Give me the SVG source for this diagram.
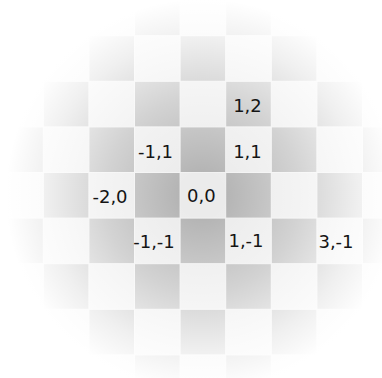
<svg xmlns="http://www.w3.org/2000/svg" width="382" height="378" viewBox="0 0 382 378">
  <style>
    .lbl { font-family: "DejaVu Sans", "Liberation Sans", sans-serif; font-size: 18px; fill: #141414; text-anchor: middle; }
    .grid { stroke: #f2f2f2; stroke-width: 1; fill: none; }
  </style>
  <defs>
    <pattern id="checker" patternUnits="userSpaceOnUse" x="180.1" y="172.5" width="91.2" height="91.2">
      <rect x="0" y="0" width="91.2" height="91.2" fill="#ebebeb"/>
      <rect x="45.6" y="0" width="45.6" height="45.6" fill="#b3b3b3"/>
      <rect x="0" y="45.6" width="45.6" height="45.6" fill="#b3b3b3"/>
    </pattern>
    <radialGradient id="fade" gradientUnits="userSpaceOnUse" cx="202" cy="195" r="196">
      <stop offset="0" stop-color="#ffffff" stop-opacity="0"/>
      <stop offset="0.1" stop-color="#ffffff" stop-opacity="0"/>
      <stop offset="0.5" stop-color="#ffffff" stop-opacity="0.42"/>
      <stop offset="0.8" stop-color="#ffffff" stop-opacity="0.8"/>
      <stop offset="1" stop-color="#ffffff" stop-opacity="1"/>
    </radialGradient>
  </defs>
  <g id="board">
    <rect x="0" y="0" width="382" height="378" fill="url(#checker)"/>
    <path class="grid" d="M-2.3 0V378M43.3 0V378M88.9 0V378M134.5 0V378M180.1 0V378M225.7 0V378M271.3 0V378M316.9 0V378M362.5 0V378M0 35.7H382M0 81.3H382M0 126.9H382M0 172.5H382M0 218.1H382M0 263.7H382M0 309.3H382M0 354.9H382"/>
    <rect x="0" y="0" width="382" height="378" fill="url(#fade)"/>
  </g>
  <g id="labels">
    <g id="cell-1-2"><text class="lbl" x="247.5" y="112">1,2</text></g>
    <g id="cell-1-1"><text class="lbl" x="247.5" y="158">1,1</text></g>
    <g id="cell-m1-1"><text class="lbl" x="155.5" y="158">-1,1</text></g>
    <g id="cell-m2-0"><text class="lbl" x="110" y="203">-2,0</text></g>
    <g id="cell-0-0"><text class="lbl" x="201.3" y="202">0,0</text></g>
    <g id="cell-m1-m1"><text class="lbl" x="154" y="248">-1,-1</text></g>
    <g id="cell-1-m1"><text class="lbl" x="246" y="247">1,-1</text></g>
    <g id="cell-3-m1"><text class="lbl" x="336" y="248">3,-1</text></g>
  </g>
</svg>
